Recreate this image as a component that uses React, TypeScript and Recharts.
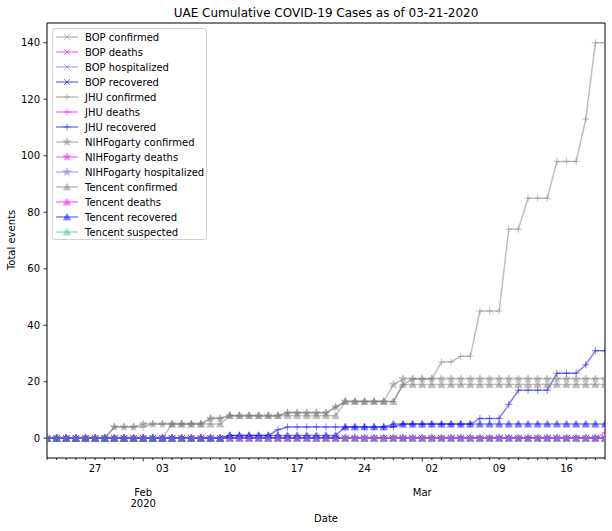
import React from 'react';
import { LineChart, Line, XAxis, YAxis, ReferenceArea, Legend } from 'recharts';

// Day index 0 = 2020-01-22 ... 58 = 2020-03-20
const DAY_COUNT = 59;
const dayIndex: number[] = Array.from({ length: DAY_COUNT }, (_, i) => i);

const weekTicks = [5, 12, 19, 26, 33, 40, 47, 54];
const weekLabels = ['27', '03', '10', '17', '24', '02', '09', '16'];
const monthTicks = [10, 39];
const monthLabels = [['Feb', '2020'], ['Mar']];
const yTicks = [0, 20, 40, 60, 80, 100, 120, 140];

const zeros59 = [0,0,0,0,0,0,0,0,0,0, 0,0,0,0,0,0,0,0,0,0, 0,0,0,0,0,0,0,0,0,0, 0,0,0,0,0,0,0,0,0,0, 0,0,0,0,0,0,0,0,0,0, 0,0,0,0,0,0,0,0,0];

const bopConfirmed = zeros59;
const bopDeaths = zeros59;
const bopHospitalized = zeros59;
const bopRecovered = zeros59;

const jhuConfirmed = [
  0,0,0,0,0,0,0, 4,4,4,4, 5,5,5,5,5,5, 7,7, 8,8,8,8,8,8, 9,9,9,9,9, 11,
  13,13,13,13,13,13, 19, 21,21,21, 27,27, 29,29, 45,45,45, 74,74, 85,85,85, 98,98,98, 113, 140,140,
];
const jhuDeaths = [
  0,0,0,0,0,0,0,0,0,0, 0,0,0,0,0,0,0,0,0,0, 0,0,0,0,0,0,0,0,0,0, 0,0,0,0,0,0,0,0,0,0, 0,0,0,0,0,0,0,0,0,0, 0,0,0,0,0,0,0,0,2,
];
const jhuRecovered = [
  0,0,0,0,0,0,0,0,0,0, 0,0,0,0,0,0,0,0,0, 1,1,1,1,1, 3, 4,4,4,4,4,4,4,4,4,4,4,4,
  5,5,5,5,5,5,5,5, 7,7,7, 12, 17,17,17,17, 23,23,23, 26, 31,31,
];

const nihConfirmed = [
  0,0,0,0,0,0,0, 4,4,4, 5,5,5,5,5,5,5, 7,7, 8,8,8,8,8,8, 9,9,9,9,9, 11,
  13,13,13,13,13, 19, 21,21,21,21,21,21,21,21,21,21,21,21,21,21,21,21,21,21,21,21,21,21,
];
const nihDeaths = zeros59;
const nihHospitalized = zeros59;

const tencentConfirmed = [
  0,0,0,0,0,0,0,0,0,0,0,0,0, 5,5,5,5,5,5, 8,8,8,8,8,8,8,8,8,8,8,8,
  13,13,13,13,13,13, 19,19,19,19,19,19,19,19,19,19,19,19,19,19,19,19,19,19,19,19,19,19,
];
const tencentDeaths = zeros59;
const tencentRecovered = [
  0,0,0,0,0,0,0,0,0,0, 0,0,0,0,0,0,0,0,0, 1,1,1,1,1,1,1,1,1,1,1,1, 4,4,4,4,4,
  5,5,5,5,5,5,5,5,5,5,5,5,5,5,5,5,5,5,5,5,5,5,5,
];
const tencentSuspected = zeros59;

const GREY = '#808080';
const MAGENTA = '#ff00ff';
const HOSP = '#7b68ee';
const BLUE = '#0000ff';
const SUSP = '#3cc296';

type Shape = 'x' | 'plus' | 'star' | 'tri';
const series: { key: string; name: string; color: string; shape: Shape; values: number[] }[] = [
  { key: 'bopConfirmed', name: 'BOP confirmed', color: GREY, shape: 'x', values: bopConfirmed },
  { key: 'bopDeaths', name: 'BOP deaths', color: MAGENTA, shape: 'x', values: bopDeaths },
  { key: 'bopHospitalized', name: 'BOP hospitalized', color: HOSP, shape: 'x', values: bopHospitalized },
  { key: 'bopRecovered', name: 'BOP recovered', color: BLUE, shape: 'x', values: bopRecovered },
  { key: 'jhuConfirmed', name: 'JHU confirmed', color: GREY, shape: 'plus', values: jhuConfirmed },
  { key: 'jhuDeaths', name: 'JHU deaths', color: MAGENTA, shape: 'plus', values: jhuDeaths },
  { key: 'jhuRecovered', name: 'JHU recovered', color: BLUE, shape: 'plus', values: jhuRecovered },
  { key: 'nihConfirmed', name: 'NIHFogarty confirmed', color: GREY, shape: 'star', values: nihConfirmed },
  { key: 'nihDeaths', name: 'NIHFogarty deaths', color: MAGENTA, shape: 'star', values: nihDeaths },
  { key: 'nihHospitalized', name: 'NIHFogarty hospitalized', color: HOSP, shape: 'star', values: nihHospitalized },
  { key: 'tencentConfirmed', name: 'Tencent confirmed', color: GREY, shape: 'tri', values: tencentConfirmed },
  { key: 'tencentDeaths', name: 'Tencent deaths', color: MAGENTA, shape: 'tri', values: tencentDeaths },
  { key: 'tencentRecovered', name: 'Tencent recovered', color: BLUE, shape: 'tri', values: tencentRecovered },
  { key: 'tencentSuspected', name: 'Tencent suspected', color: SUSP, shape: 'tri', values: tencentSuspected },
];

const data = dayIndex.map((i) => {
  const row: Record<string, number> = { i };
  series.forEach((s) => { row[s.key] = s.values[i]; });
  return row;
});

const FONT = '"DejaVu Sans", Verdana, sans-serif';

const starPoints = (cx: number, cy: number, R: number, r: number) => {
  const pts: string[] = [];
  for (let k = 0; k < 10; k++) {
    const ang = -Math.PI / 2 + (k * Math.PI) / 5;
    const rad = k % 2 === 0 ? R : r;
    pts.push(`${cx + rad * Math.cos(ang)},${cy + rad * Math.sin(ang)}`);
  }
  return pts.join(' ');
};

const Marker = ({ shape, cx, cy, color }: { shape: Shape; cx: number; cy: number; color: string }) => {
  const h = 3;
  if (shape === 'x') {
    return (
      <g opacity={0.5}>
        <line x1={cx - h} y1={cy - h} x2={cx + h} y2={cy + h} stroke={color} strokeWidth={1} />
        <line x1={cx - h} y1={cy + h} x2={cx + h} y2={cy - h} stroke={color} strokeWidth={1} />
      </g>
    );
  }
  if (shape === 'plus') {
    return (
      <g opacity={0.5}>
        <line x1={cx - h - 0.5} y1={cy} x2={cx + h + 0.5} y2={cy} stroke={color} strokeWidth={1} />
        <line x1={cx} y1={cy - h - 0.5} x2={cx} y2={cy + h + 0.5} stroke={color} strokeWidth={1} />
      </g>
    );
  }
  if (shape === 'star') {
    return <polygon opacity={0.5} points={starPoints(cx, cy, 4, 1.7)} fill={color} stroke={color} strokeWidth={0.8} />;
  }
  return (
    <polygon
      opacity={0.5}
      points={`${cx},${cy - 3.6} ${cx - 3.6},${cy + 3} ${cx + 3.6},${cy + 3}`}
      fill={color}
      stroke={color}
      strokeWidth={0.8}
    />
  );
};

const makeDot = (shape: Shape, color: string) => (p: any) => {
  const { cx, cy, index } = p;
  if (cx == null || cy == null || Number.isNaN(cy)) return <g key={`d${index}`} />;
  return <Marker key={`d${index}`} shape={shape} cx={cx} cy={cy} color={color} />;
};

const XTick = (props: any) => {
  const { x, y, payload } = props;
  const v = payload.value;
  const wi = weekTicks.indexOf(v);
  const mi = monthTicks.indexOf(v);
  return (
    <g>
      <line x1={x} x2={x} y1={y} y2={y + (mi >= 0 ? 3.5 : 2)} stroke="#000" strokeWidth={0.8} />
      {wi >= 0 && (
        <text x={x} y={y + 13.5} textAnchor="middle" fontSize={10} fontFamily={FONT} fill="#000">
          {weekLabels[wi]}
        </text>
      )}
      {mi >= 0 &&
        monthLabels[mi].map((t, k) => (
          <text key={k} x={x} y={y + 37.5 + k * 11.6} textAnchor="middle" fontSize={10} fontFamily={FONT} fill="#000">
            {t}
          </text>
        ))}
    </g>
  );
};

const YTick = (props: any) => {
  const { x, y, payload } = props;
  return (
    <g>
      <line x1={47} x2={43.5} y1={y} y2={y} stroke="#000" strokeWidth={0.8} />
      <text x={40} y={y + 3.6} textAnchor="end" fontSize={10} fontFamily={FONT} fill="#000">
        {payload.value}
      </text>
    </g>
  );
};

const LegendBox = () => (
  <div
    style={{
      width: 155,
      height: 212,
      border: '1px solid #d0d0d0',
      borderRadius: 3,
      background: 'rgba(255,255,255,0.8)',
      boxSizing: 'border-box',
    }}
  >
    <svg width={155} height={212}>
      {series.map((s, k) => {
        const cy = 8 + k * 15;
        return (
          <g key={s.key}>
            <line x1={3} x2={25} y1={cy} y2={cy} stroke={s.color} strokeOpacity={0.5} strokeWidth={1.5} />
            <Marker shape={s.shape} cx={14} cy={cy} color={s.color} />
            <text x={32} y={cy + 3.6} fontSize={10} fontFamily={FONT} fill="#000">
              {s.name}
            </text>
          </g>
        );
      })}
    </svg>
  </div>
);

export default function App() {
  return (
    <div style={{ position: 'absolute', left: 0, top: 0, width: 612, height: 531, background: '#fff' }}>
      <LineChart width={612} height={531} data={data} margin={{ top: 23, right: 7, bottom: 0, left: 7 }}>
        <XAxis
          dataKey="i"
          type="number"
          domain={[0, 58]}
          ticks={dayIndex}
          interval={0}
          tick={<XTick />}
          tickLine={false}
          tickSize={0}
          tickMargin={0}
          axisLine={false}
          height={73}
          allowDataOverflow
        />
        <YAxis
          type="number"
          domain={[-7, 147]}
          ticks={yTicks}
          tick={<YTick />}
          tickLine={false}
          axisLine={false}
          width={40}
          allowDataOverflow
        />
        <ReferenceArea x1={0} x2={58} y1={-7} y2={147} fill="none" stroke="#000" strokeWidth={1} ifOverflow="visible" />
        {series.map((s) => (
          <Line
            key={s.key}
            dataKey={s.key}
            name={s.name}
            type="linear"
            stroke={s.color}
            strokeOpacity={0.5}
            strokeWidth={1.5}
            dot={makeDot(s.shape, s.color)}
            activeDot={false}
            isAnimationActive={false}
          />
        ))}
        <Legend
          layout="vertical"
          align="center"
          verticalAlign="middle"
          content={<LegendBox />}
          wrapperStyle={{ position: 'absolute', left: 52, top: 28, width: 155, height: 212, margin: 0 }}
        />
      </LineChart>
      <svg
        width={612}
        height={531}
        style={{ position: 'absolute', left: 0, top: 0, pointerEvents: 'none' }}
      >
        <text x={326} y={17} textAnchor="middle" fontSize={12} fontFamily={FONT} fill="#000">
          UAE Cumulative COVID-19 Cases as of 03-21-2020
        </text>
        <text
          x={15}
          y={240}
          textAnchor="middle"
          fontSize={10}
          fontFamily={FONT}
          fill="#000"
          transform="rotate(-90 15 240)"
        >
          Total events
        </text>
        <text x={326} y={522} textAnchor="middle" fontSize={10} fontFamily={FONT} fill="#000">
          Date
        </text>
      </svg>
    </div>
  );
}
